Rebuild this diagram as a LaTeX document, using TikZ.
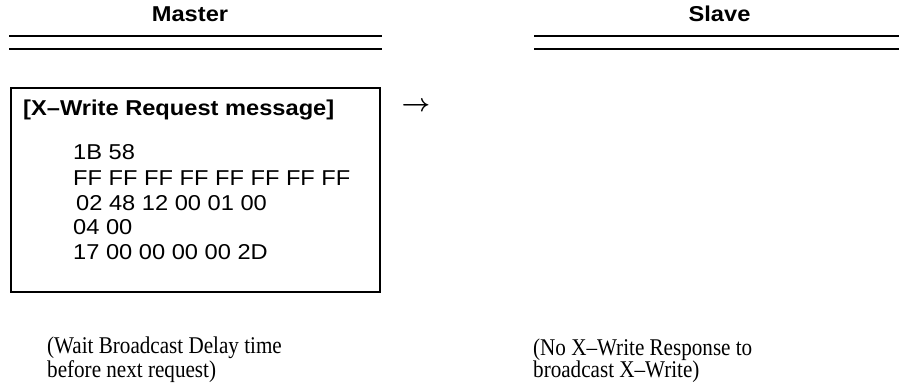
\documentclass[tikz,border=0pt]{standalone}
\usepackage{fontspec}
\usepackage{amsmath}
\setmainfont{Liberation Serif}
\setsansfont{Liberation Sans}
\newfontfamily\condserif[FakeStretch=0.88,Ligatures=TeX]{Liberation Serif}
\newfontfamily\widesans[FakeStretch=1.1,Ligatures=TeX]{Liberation Sans}
\begin{document}
\begin{tikzpicture}[x=1pt,y=-1pt,
  hdr/.style={font=\widesans\bfseries\fontsize{21.5}{26}\selectfont,inner sep=0pt,anchor=base},
  hexline/.style={font=\widesans\fontsize{21.5}{26}\selectfont,inner sep=0pt,anchor=base west},
  note/.style={font=\condserif\fontsize{24}{22}\selectfont,inner sep=0pt,anchor=base west,align=left},
  rule/.style={line width=2pt},
  msgbox/.style={draw,line width=2pt}]
\useasboundingbox (0,0) rectangle (899,387);
% headers
\node[hdr] (master) at (190,22) {Master};
\node[hdr] (slave) at (719.5,22) {Slave};
\coordinate (ml1a) at (9,36); \coordinate (ml1b) at (382,36);
\coordinate (ml2a) at (9,49); \coordinate (ml2b) at (382,49);
\coordinate (sl1a) at (534,36); \coordinate (sl1b) at (899,36);
\coordinate (sl2a) at (534,49); \coordinate (sl2b) at (899,49);
\draw[rule] (ml1a) -- (ml1b);
\draw[rule] (ml2a) -- (ml2b);
\draw[rule] (sl1a) -- (sl1b);
\draw[rule] (sl2a) -- (sl2b);
% message box
\node[msgbox,minimum width=369pt,minimum height=204pt,anchor=north west] (box) at (10,87) {};
\node[hdr,anchor=base west] (title) at (23,116) {[X--Write Request message]};
\node[hexline] (h1) at (73,160) {1B 58};
\node[hexline] (h2) at (73,186) {FF FF FF FF FF FF FF FF};
\node[hexline] (h3) at (76,211) {02 48 12 00 01 00};
\node[hexline] (h4) at (73,235) {04 00};
\node[hexline] (h5) at (73,260) {17 00 00 00 00 2D};
% arrow glyph
\node[inner sep=0pt,font=\fontsize{31}{31}\selectfont] (arr) at (416,107) {$\boldsymbol{\rightarrow}$};
% notes
\node[note] (n1) at (47,377) {(Wait Broadcast Delay time\\before next request)};
\node[note] (n2) at (533,377) {(No X--Write Response to\\broadcast X--Write)};
\end{tikzpicture}
\end{document}
